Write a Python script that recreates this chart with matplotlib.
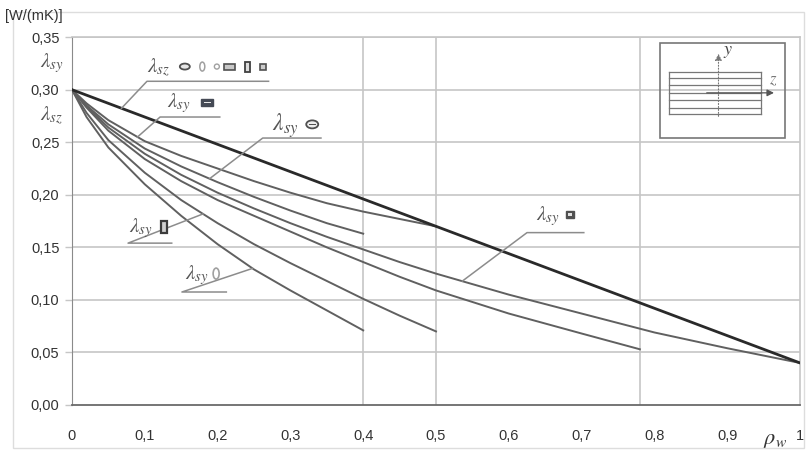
import numpy as np
import matplotlib.pyplot as plt
from matplotlib.patches import Rectangle, Ellipse
from matplotlib.transforms import ScaledTranslation

plt.rcParams['font.family'] = ['Liberation Sans', 'DejaVu Sans']
plt.rcParams['mathtext.fontset'] = 'stix'

# lambda_sz (all shapes) - straight line
rho_sz = [0.0, 1.0]
lam_sz = [0.300, 0.040]

# lambda_sy curves
rho_a = [0, 0.02, 0.05, 0.1, 0.15, 0.2, 0.25, 0.3, 0.35, 0.4, 0.45, 0.5]
lam_a = [0.300, 0.287, 0.271, 0.251, 0.237, 0.225, 0.213, 0.202, 0.192, 0.184, 0.177, 0.170]

rho_b = [0, 0.02, 0.05, 0.1, 0.15, 0.2, 0.25, 0.3, 0.35, 0.4]
lam_b = [0.300, 0.285, 0.267, 0.244, 0.227, 0.212, 0.198, 0.185, 0.173, 0.163]

rho_c = [0, 0.02, 0.05, 0.1, 0.15, 0.2, 0.25, 0.3, 0.35, 0.4, 0.45, 0.5,
         0.6, 0.7, 0.8, 0.9, 1.0]
lam_c = [0.300, 0.284, 0.264, 0.239, 0.219, 0.202, 0.187, 0.173, 0.160, 0.148, 0.136,
         0.125, 0.105, 0.087, 0.069, 0.054, 0.040]

rho_d = [0, 0.02, 0.05, 0.1, 0.15, 0.2, 0.25, 0.3, 0.35, 0.4, 0.45, 0.5, 0.6, 0.7, 0.78]
lam_d = [0.300, 0.283, 0.261, 0.234, 0.213, 0.195, 0.180, 0.165, 0.150, 0.136, 0.122,
         0.109, 0.087, 0.068, 0.053]

rho_e = [0, 0.02, 0.05, 0.1, 0.15, 0.2, 0.25, 0.3, 0.35, 0.4, 0.45, 0.5]
lam_e = [0.300, 0.278, 0.252, 0.221, 0.195, 0.173, 0.153, 0.135, 0.118, 0.101, 0.085, 0.070]

rho_f = [0, 0.02, 0.05, 0.1, 0.15, 0.2, 0.25, 0.3, 0.35, 0.4]
lam_f = [0.300, 0.274, 0.245, 0.210, 0.180, 0.153, 0.129, 0.109, 0.090, 0.071]

x_ticks = [0, 0.1, 0.2, 0.3, 0.4, 0.5, 0.6, 0.7, 0.8, 0.9, 1.0]
x_labels = ['0', '0,1', '0,2', '0,3', '0,4', '0,5', '0,6', '0,7', '0,8', '0,9', '1']
y_ticks = [0, 0.05, 0.10, 0.15, 0.20, 0.25, 0.30, 0.35]
y_labels = ['0,00', '0,05', '0,10', '0,15', '0,20', '0,25', '0,30', '0,35']
end_lines = [0.4, 0.5, 0.78]

fig = plt.figure(figsize=(8.06, 4.53), dpi=100)
ax = fig.add_axes([0.0893, 0.106, 0.9033, 0.812])

grid_c = '#c6c6c6'
for v in y_ticks[1:]:
    ax.axhline(v, color=grid_c, lw=1.2, zorder=1)
for v in end_lines:
    ax.axvline(v, color=grid_c, lw=1.2, zorder=1)

curve_c = '#606060'
for r, l in [(rho_a, lam_a), (rho_b, lam_b), (rho_c, lam_c),
             (rho_d, lam_d), (rho_e, lam_e), (rho_f, lam_f)]:
    ax.plot(r, l, color=curve_c, lw=1.4, zorder=3, solid_joinstyle='round')
ax.plot(rho_sz, lam_sz, color='#2a2a2a', lw=2.0, zorder=4)

ax.set_xlim(0, 1)
ax.set_ylim(0, 0.35)
ax.set_xticks(x_ticks)
ax.set_xticklabels(x_labels)
ax.set_yticks(y_ticks)
ax.set_yticklabels(y_labels)
ax.tick_params(axis='x', length=0, pad=17, labelsize=10.5, colors='#333333')
ax.tick_params(axis='y', length=5, width=1, color=grid_c, pad=4,
               labelsize=10.5, labelcolor='#333333')
for s in ['top', 'right']:
    ax.spines[s].set_color(grid_c)
    ax.spines[s].set_linewidth(1.2)
ax.spines['left'].set_color('#8a8a8a')
ax.spines['bottom'].set_color('#6a6a6a')
ax.spines['bottom'].set_linewidth(1.3)

txt_c = '#555555'


def shape(kind, x, y):
    # small cross-section symbol, sizes in pixels around data point (x, y)
    tr = fig.dpi_scale_trans + ScaledTranslation(x, y, ax.transData)
    p = 0.01
    if kind == 'ellh':
        ax.add_patch(Ellipse((0, 0), 10 * p, 6 * p, fc='#e6e6e6', ec='#505050', lw=1.3, transform=tr, zorder=7))
    elif kind == 'ellv':
        ax.add_patch(Ellipse((0, 0), 5 * p, 9 * p, fc='none', ec='#a0a0a0', lw=1.1, transform=tr, zorder=7))
    elif kind == 'ellv2':
        ax.add_patch(Ellipse((0, 0), 6 * p, 11 * p, fc='none', ec='#a0a0a0', lw=1.2, transform=tr, zorder=7))
    elif kind == 'circ':
        ax.add_patch(Ellipse((0, 0), 5 * p, 5 * p, fc='none', ec='#a0a0a0', lw=1.0, transform=tr, zorder=7))
    elif kind == 'recth':
        ax.add_patch(Rectangle((-5.5 * p, -3 * p), 11 * p, 6 * p, fc='#c8c8c8', ec='#505050', lw=1.2, transform=tr, zorder=7))
    elif kind == 'rectv':
        ax.add_patch(Rectangle((-2.5 * p, -5 * p), 5 * p, 10 * p, fc='#dddddd', ec='#404040', lw=1.3, transform=tr, zorder=7))
    elif kind == 'rectv2':
        ax.add_patch(Rectangle((-3 * p, -6 * p), 6 * p, 12 * p, fc='#d0d0d0', ec='#3c3c3c', lw=1.6, transform=tr, zorder=7))
    elif kind == 'sq':
        ax.add_patch(Rectangle((-3 * p, -3 * p), 6 * p, 6 * p, fc='#cccccc', ec='#505050', lw=1.2, transform=tr, zorder=7))
    elif kind == 'sq2':
        ax.add_patch(Rectangle((-4 * p, -3.5 * p), 8 * p, 7 * p, fc='#505050', ec='#505050', lw=1.0, transform=tr, zorder=7))
        ax.add_patch(Rectangle((-2 * p, -1.5 * p), 4 * p, 3 * p, fc='#e0e0e0', ec='none', transform=tr, zorder=8))
    elif kind == 'rectfill':
        ax.add_patch(Rectangle((-6 * p, -3.5 * p), 12 * p, 7 * p, fc='#454a55', ec='#454a55', lw=1.0, transform=tr, zorder=7))
        ax.add_patch(Rectangle((-3.5 * p, -0.6 * p), 7 * p, 1.2 * p, fc='#e8e8e8', ec='none', transform=tr, zorder=8))
    elif kind == 'ellline':
        ax.add_patch(Ellipse((0, 0), 12 * p, 8 * p, fc='#eeeeee', ec='#505050', lw=1.3, transform=tr, zorder=7))
        ax.add_patch(Rectangle((-3.5 * p, -0.6 * p), 7 * p, 1.2 * p, fc='#505050', ec='none', transform=tr, zorder=8))


# labels with leader lines: text, text pos, underline (x0, x1, y), curve hit, symbols
labels = [
    (r'$\lambda_{sz}$', 0.103, 0.321, 0.103, 0.270, 0.308, rho_sz, lam_sz, 0.068,
     [('ellh', 0.155), ('ellv', 0.179), ('circ', 0.199), ('recth', 0.216),
      ('rectv', 0.241), ('sq', 0.262)]),
    (r'$\lambda_{sy}$', 0.130, 0.287, 0.121, 0.203, 0.274, rho_a, lam_a, 0.090,
     [('rectfill', 0.186)]),
    (r'$\lambda_{sy}$', 0.275, 0.266, 0.262, 0.342, 0.254, rho_b, lam_b, 0.189,
     [('ellline', 0.330)]),
    (r'$\lambda_{sy}$', 0.079, 0.168, 0.077, 0.137, 0.154, rho_e, lam_e, 0.180,
     [('rectv2', 0.126)]),
    (r'$\lambda_{sy}$', 0.155, 0.124, 0.151, 0.212, 0.1075, rho_f, lam_f, 0.248,
     [('ellv2', 0.198)]),
    (r'$\lambda_{sy}$', 0.637, 0.180, 0.625, 0.703, 0.164, rho_c, lam_c, 0.536,
     [('sq2', 0.684)]),
]
for t, tx, ty, ux0, ux1, uy, r, l, hx, syms in labels:
    fs = 17 if tx == 0.275 else 15
    ax.text(tx, ty, t, fontsize=fs, color=txt_c, va='center', zorder=6)
    for kind, sx in syms:
        shape(kind, sx, ty + 0.001)
    hy = np.interp(hx, r, l)
    ax.plot([hx, ux0, ux1], [hy, uy, uy], color='#8c8c8c', lw=1.1, zorder=5)

# left axis symbols and unit
fig.text(0.006, 0.955, '[W/(mK)]', fontsize=10.5, color='#333333')
ax.text(-0.012, 0.325, r'$\lambda_{sy}$', fontsize=15, color=txt_c,
        ha='right', va='center')
ax.text(-0.012, 0.275, r'$\lambda_{sz}$', fontsize=15, color=txt_c,
        ha='right', va='center')
ax.text(0.966, -0.034, r'$\rho_w$', fontsize=16, color='#333333',
        ha='center', va='center')

# inset sketch of the layered wall
ax.add_patch(Rectangle((0.808, 0.254), 0.171, 0.090, fill=False,
                       ec='#777777', lw=1.2, zorder=6))
for yy in [0.277, 0.283, 0.290, 0.297, 0.304, 0.311, 0.317]:
    ax.plot([0.82, 0.947], [yy, yy], color='#777777', lw=0.9, zorder=6)
ax.plot([0.82, 0.82], [0.277, 0.317], color='#777777', lw=0.9, zorder=6)
ax.plot([0.947, 0.947], [0.277, 0.317], color='#777777', lw=0.9, zorder=6)
ax.annotate('', xy=(0.888, 0.337), xytext=(0.888, 0.272),
            arrowprops=dict(arrowstyle='-|>', color='#777777', lw=0.8, ls=':'), zorder=7)
ax.annotate('', xy=(0.968, 0.297), xytext=(0.868, 0.297),
            arrowprops=dict(arrowstyle='-|>', color='#555555', lw=0.9), zorder=7)
ax.text(0.894, 0.336, '$y$', fontsize=13, color='#444444', va='center')
ax.text(0.957, 0.309, '$z$', fontsize=12, color='#777777', va='center')

# faint frame around the chart
fig.patches.append(Rectangle((0.016, 0.012), 0.982, 0.962, transform=fig.transFigure,
                             fill=False, ec='#dddddd', lw=1.0))

fig.savefig('out.png', dpi=100)
